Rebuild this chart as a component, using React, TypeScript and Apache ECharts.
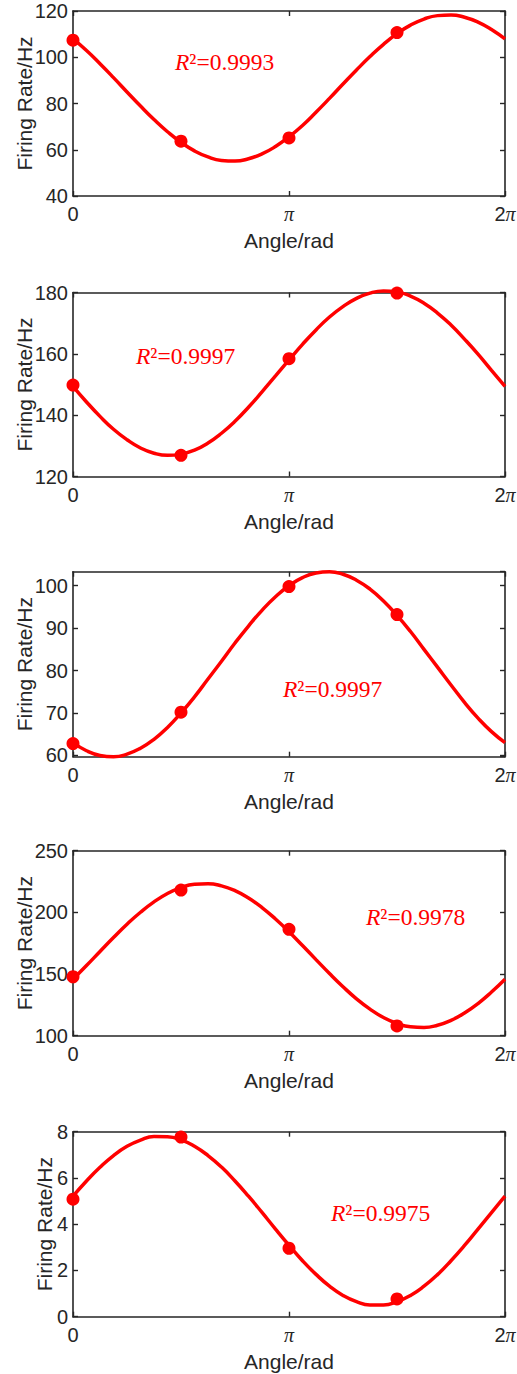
import React, { useEffect, useRef } from "react";
import * as echarts from "echarts";

// Angles in units of pi
const POINT_X_PI = [0, 0.5, 1, 1.5];
const CURVE_X_PI = [
  0, 0.0625, 0.125, 0.1875, 0.25, 0.3125, 0.375, 0.4375, 0.5, 0.5625, 0.625, 0.6875, 0.75, 0.8125, 0.875, 0.9375, 1,
  1.0625, 1.125, 1.1875, 1.25, 1.3125, 1.375, 1.4375, 1.5, 1.5625, 1.625, 1.6875, 1.75, 1.8125, 1.875, 1.9375, 2,
];

const P1_POINTS = [107.4, 63.7, 65.1, 110.7];
const P1_CURVE = [107.9, 102.9, 97.2, 91.2, 85.0, 78.9, 73.1, 67.8, 63.2, 59.5, 56.9, 55.4, 55.1, 56.1, 58.2, 61.4, 65.6, 70.5, 76.2, 82.2, 88.4, 94.5, 100.3, 105.6, 110.2, 113.9, 116.5, 118.0, 118.3, 117.3, 115.2, 112.0, 107.9];

const P2_POINTS = [149.8, 126.9, 158.4, 179.8];
const P2_CURVE = [149.4, 144.3, 139.6, 135.4, 132.0, 129.3, 127.6, 126.9, 127.3, 128.6, 130.9, 134.1, 138.0, 142.6, 147.6, 152.8, 158.0, 163.1, 167.8, 172.0, 175.4, 178.1, 179.8, 180.5, 180.2, 178.8, 176.5, 173.3, 169.4, 164.8, 159.9, 154.6, 149.4];

const P3_POINTS = [62.8, 70.2, 99.8, 93.2];
const P3_CURVE = [63.0, 61.1, 60.0, 59.7, 60.3, 61.7, 63.8, 66.6, 70.0, 73.8, 78.0, 82.2, 86.5, 90.5, 94.2, 97.4, 100.0, 101.9, 103.0, 103.3, 102.7, 101.3, 99.2, 96.4, 93.0, 89.2, 85.0, 80.8, 76.6, 72.5, 68.8, 65.6, 63.0];

const P4_POINTS = [147.8, 218.1, 186.3, 107.9];
const P4_CURVE = [145.8, 156.9, 168.3, 179.6, 190.4, 200.1, 208.5, 215.3, 220.1, 222.8, 223.3, 221.5, 217.6, 211.6, 203.9, 194.6, 184.3, 173.1, 161.7, 150.4, 139.7, 129.9, 121.5, 114.7, 109.9, 107.2, 106.7, 108.5, 112.4, 118.4, 126.1, 135.4, 145.8];

const P5_POINTS = [5.08, 7.77, 2.96, 0.77];
const P5_CURVE = [5.21, 5.87, 6.46, 6.97, 7.37, 7.64, 7.79, 7.78, 7.65, 7.37, 6.97, 6.47, 5.87, 5.21, 4.51, 3.79, 3.09, 2.42, 1.83, 1.32, 0.92, 0.65, 0.51, 0.51, 0.65, 0.92, 1.32, 1.82, 2.42, 3.08, 3.79, 4.50, 5.21];

const R2_VALUES = ["0.9993", "0.9997", "0.9997", "0.9978", "0.9975"];

const Y_MIN = [40, 120, 59.7, 100, 0];
const Y_MAX = [120, 180, 103.3, 250, 8];
const Y_INTERVAL: (number | null)[] = [20, 20, null, 50, 2];

const POINTS = [P1_POINTS, P2_POINTS, P3_POINTS, P4_POINTS, P5_POINTS];
const CURVES = [P1_CURVE, P2_CURVE, P3_CURVE, P4_CURVE, P5_CURVE];

// layout
const GRID_TOPS = [11, 292.5, 571.7, 850.7, 1131.7];
const GRID_HEIGHTS = [185, 184, 185, 185, 185];
const NAME_GAPS = [38, 38, 38, 38, 18];
const R2_POS = [
  [175, 62],
  [136, 356],
  [283, 689],
  [366, 917],
  [331, 1213],
];

const AX = "#262626";
const RED = "#ff0000";
const SANS = "Liberation Sans";
const SERIF = "Liberation Serif";

function buildOption() {
  const grid: any[] = [];
  const xAxis: any[] = [];
  const yAxis: any[] = [];
  const series: any[] = [];
  const graphic: any[] = [];

  const lineStyle = { color: AX, width: 1.6 };
  const tick = { show: true, inside: true, length: 5, lineStyle: { color: AX, width: 1.4 } };

  for (let i = 0; i < 5; i++) {
    grid.push({
      left: 73,
      right: 12,
      top: GRID_TOPS[i],
      height: GRID_HEIGHTS[i],
      containLabel: false,
      outerBoundsMode: "none",
    });

    const xBase = {
      type: "value",
      gridIndex: i,
      min: 0,
      max: 2,
      interval: 1,
      splitLine: { show: false },
      axisLine: { show: true, onZero: false, lineStyle },
      axisTick: tick,
    };
    xAxis.push({
      ...xBase,
      position: "bottom",
      axisLabel: {
        margin: 8,
        color: AX,
        fontSize: 20,
        fontFamily: SANS,
        formatter: (v: number) => (v === 0 ? "{s|0}" : v === 1 ? "{p|π}" : "{s|2}{p|π}"),
        rich: {
          s: { fontFamily: SANS, fontSize: 20, color: AX },
          p: { fontFamily: SERIF, fontStyle: "italic", fontSize: 20, color: AX },
        },
      },
      name: "Angle/rad",
      nameLocation: "middle",
      nameGap: 34,
      nameMoveOverlap: false,
      nameTextStyle: { color: AX, fontSize: 21, fontFamily: SANS },
    });
    xAxis.push({ ...xBase, position: "top", axisLabel: { show: false } });

    const yBase: any = {
      type: "value",
      gridIndex: i,
      min: Y_MIN[i],
      max: Y_MAX[i],
      splitLine: { show: false },
      axisLine: { show: true, onZero: false, lineStyle },
      axisTick: tick,
    };
    const tight = Y_INTERVAL[i] === null;
    if (!tight) yBase.interval = Y_INTERVAL[i];
    else yBase.splitNumber = 4;
    yAxis.push({
      ...yBase,
      position: "left",
      axisLabel: {
        margin: 5,
        color: AX,
        fontSize: 20,
        fontFamily: SANS,
        showMinLabel: !tight,
        showMaxLabel: !tight,
      },
      name: "Firing Rate/Hz",
      nameLocation: "middle",
      nameGap: NAME_GAPS[i],
      nameMoveOverlap: false,
      nameTextStyle: { color: AX, fontSize: 21, fontFamily: SANS },
    });
    yAxis.push({ ...yBase, position: "right", axisLabel: { show: false } });

    series.push({
      type: "line",
      xAxisIndex: 2 * i,
      yAxisIndex: 2 * i,
      data: CURVE_X_PI.map((x, k) => [x, CURVES[i][k]]),
      smooth: 0.5,
      showSymbol: false,
      symbol: "none",
      clip: false,
      lineStyle: { color: RED, width: 3.5, opacity: 1 },
      z: 3,
    });
    series.push({
      type: "scatter",
      xAxisIndex: 2 * i,
      yAxisIndex: 2 * i,
      data: POINT_X_PI.map((x, k) => [x, POINTS[i][k]]),
      symbol: "circle",
      symbolSize: 13,
      clip: false,
      itemStyle: { color: RED, opacity: 1 },
      z: 4,
    });

    graphic.push({
      type: "text",
      x: R2_POS[i][0],
      y: R2_POS[i][1],
      z: 10,
      style: {
        text: "{i|R}{n|²=" + R2_VALUES[i] + "}",
        fill: RED,
        font: `23.5px "${SERIF}"`,
        align: "left",
        verticalAlign: "middle",
        rich: {
          i: { fontFamily: SERIF, fontStyle: "italic", fontSize: 23.5, fill: RED },
          n: { fontFamily: SERIF, fontSize: 23.5, fill: RED },
        },
      },
    });
  }

  return {
    animation: false,
    backgroundColor: "#ffffff",
    grid,
    xAxis,
    yAxis,
    series,
    graphic,
  };
}

export default function App() {
  const ref = useRef<HTMLDivElement>(null);
  useEffect(() => {
    if (!ref.current) return;
    const chart = echarts.init(ref.current, undefined, { renderer: "svg" });
    chart.setOption(buildOption() as any);
    return () => chart.dispose();
  }, []);
  return (
    <div
      ref={ref}
      style={{ position: "absolute", left: 0, top: 0, width: 517, height: 1374, background: "#fff" }}
    />
  );
}
